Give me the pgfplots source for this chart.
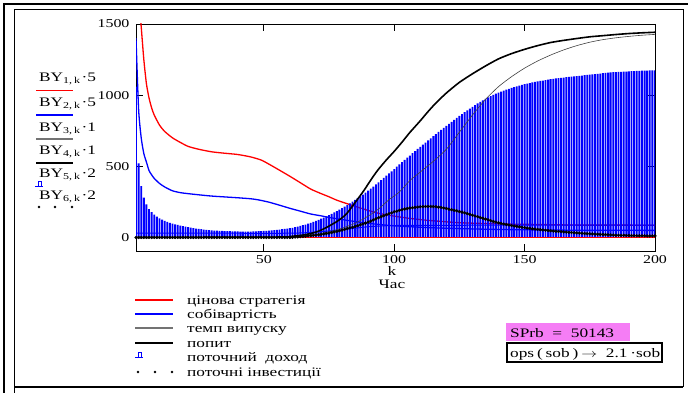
\documentclass[border=0pt]{standalone}
\usepackage{fontspec}
\setmainfont{Liberation Serif}
\usepackage{graphicx}
\usepackage{pgfplots}
\pgfplotsset{compat=1.18}
\definecolor{pinkbox}{RGB}{245,125,245}
\newcommand{\W}[1]{\scalebox{1.33}[1]{#1}}
\newcommand{\BY}[2]{\W{BY\raisebox{-0.35ex}{\small #1,\,k}\hspace{1pt}·#2}}
\begin{document}
\fontsize{13pt}{15pt}\selectfont
\begin{tikzpicture}[x=1pt,y=1pt]
\useasboundingbox (0,0) rectangle (688,392);
% frame
\draw[line width=2.2pt] (4,-5) -- (4,388) -- (700,388);
\draw[line width=0.8pt] (14,-2) -- (14,383) -- (683,383) -- (683,5);
\draw[line width=1.6pt] (14,5) -- (683,5);
\begin{axis}[
  at={(136pt,141pt)}, anchor=south west,
  width=519pt, height=227pt, scale only axis,
  xmin=1, xmax=200, ymin=-95, ymax=1500,
  xtick={50,100,150,200}, ytick={0,500,1000,1500},
  xticklabels={\W{50},\W{100},\W{150},\W{200}},
  yticklabels={\W{0},\W{500},\W{1000},\W{1500}},
  tick align=inside, major tick length=7pt,
  axis line style={line width=0.8pt},
  tick style={line width=0.8pt, black},
  ticklabel style={font=\fontsize{12pt}{14pt}\selectfont},
  yticklabel style={xshift=-2pt},
  clip=true,
]
% red price strategy
\addplot[red, line width=1.3pt, smooth, tension=0.4] coordinates {
(1,2000)(2,1700)(3,1480)(4,1250)(5,1080)(6,980)(7,910)(8,860)(10,790)(12,745)(15,700)(18,668)(21,640)(25,620)(30,602)(35,592)(40,583)(45,566)(49,544)(52,515)(56,473)(60,430)(64,385)(68,340)(72,308)(75,286)(78,262)(82,237)(86,213)(90,190)(94,170)(100,150)(106,134)(112,122)(120,110)(126,103)(135,98)(145,94)(160,90)(170,87)(185,87)(200,86)};
% bars: current income
\addplot[ybar, bar width=0.72, fill=blue, draw=none] coordinates {
(1,1060)(2,520)(3,360)(4,280)(5,232)(6,200)(7,178)(8,160)(9,146)(10,135)
(11,125)(12,117)(13,110)(14,103)(15,97)(16,92)(17,88)(18,84)(19,80)(20,76)
(21,72)(22,69)(23,66)(24,63)(25,60)(26,58)(27,56)(28,54)(29,52)(30,50)
(31,49)(32,48)(33,47)(34,46)(35,45)(36,44)(37,44)(38,43)(39,43)(40,43)
(41,42)(42,42)(43,42)(44,42)(45,42)(46,43)(47,43)(48,44)(49,45)(50,46)
(51,47)(52,48)(53,50)(54,52)(55,54)(56,56)(57,58)(58,60)(59,62)(60,65)
(61,68)(62,72)(63,76)(64,81)(65,86)(66,91)(67,97)(68,103)(69,110)(70,117)
(71,124)(72,132)(73,140)(74,148)(75,157)(76,166)(77,176)(78,186)(79,196)(80,206)
(81,217)(82,228)(83,240)(84,252)(85,264)(86,276)(87,289)(88,302)(89,315)(90,329)
(91,343)(92,358)(93,373)(94,388)(95,403)(96,418)(97,434)(98,450)(99,465)(100,481)
(101,497)(102,513)(103,529)(104,545)(105,561)(106,576)(107,592)(108,607)(109,622)(110,637)
(111,652)(112,667)(113,682)(114,697)(115,712)(116,727)(117,742)(118,756)(119,770)(120,784)
(121,798)(122,812)(123,826)(124,840)(125,854)(126,867)(127,880)(128,893)(129,906)(130,918)
(131,930)(132,942)(133,953)(134,964)(135,974)(136,984)(137,993)(138,1002)(139,1010)(140,1018)
(141,1025)(142,1032)(143,1039)(144,1045)(145,1051)(146,1057)(147,1062)(148,1067)(149,1072)(150,1077)
(151,1081)(152,1085)(153,1089)(154,1093)(155,1097)(156,1100)(157,1103)(158,1106)(159,1109)(160,1112)
(161,1115)(162,1118)(163,1120)(164,1122)(165,1124)(166,1126)(167,1128)(168,1130)(169,1132)(170,1134)
(171,1136)(172,1138)(173,1140)(174,1142)(175,1144)(176,1146)(177,1148)(178,1150)(179,1152)(180,1154)
(181,1156)(182,1158)(183,1160)(184,1161)(185,1162)(186,1163)(187,1164)(188,1165)(189,1166)(190,1167)
(191,1168)(192,1169)(193,1170)(194,1171)(195,1172)(196,1173)(197,1173)(198,1174)(199,1174)(200,1175)};
% red zero line
\addplot[red, line width=1pt] coordinates {(63,0)(200,0)};
% blue cost
\addplot[blue, line width=1.3pt, smooth, tension=0.4] coordinates {
(1,1400)(2,900)(3,700)(4,590)(5,530)(6,470)(7,440)(8,415)(10,380)(12,355)(15,328)(18,315)(21,308)(25,300)(30,291)(35,285)(40,279)(45,272)(48,264)(52,248)(56,227)(60,205)(64,185)(68,165)(72,152)(75,141)(80,126)(85,112)(90,100)(95,90)(100,82)(110,72)(120,65)(135,58)(150,54)(170,51)(200,50)};
% second blue line
\addplot[blue, line width=1pt, smooth, tension=0.4] coordinates {
(1,30)(30,30)(60,30)(70,38)(80,55)(90,75)(100,84)(130,86)(200,86)};
% output rate (thin)
\addplot[black!75, line width=0.6pt, smooth, tension=0.4] coordinates {
(1,0)(50,1)(60,4)(65,10)(70,22)(75,40)(80,65)(85,100)(90,150)(94,200)(98,265)(102,320)(106,400)(110,460)(115,535)(120,620)(125,740)(130,860)(135,970)(140,1060)(145,1130)(150,1190)(155,1240)(160,1282)(165,1318)(170,1348)(175,1372)(180,1390)(185,1403)(190,1413)(195,1421)(200,1427)};
% demand (thick)
\addplot[black, line width=1.6pt, smooth, tension=0.4] coordinates {
(1,0)(55,3)(60,7)(65,17)(68,28)(70,38)(72,52)(75,80)(78,112)(80,138)(82,172)(85,245)(88,320)(90,375)(92,430)(94,480)(97,545)(100,605)(103,670)(106,738)(110,820)(113,885)(116,945)(120,1015)(125,1090)(130,1150)(135,1205)(140,1255)(145,1292)(150,1322)(155,1348)(160,1370)(165,1385)(170,1398)(175,1410)(180,1418)(185,1426)(190,1433)(195,1438)(200,1442)};
% investments (dots)
\addplot[only marks, mark=*, mark size=1.4pt, black] coordinates {
(1,0)(2,0)(3,0)(4,0)(5,0)(6,0)(7,0)(8,0)(9,0)(10,0)
(11,0)(12,0)(13,0)(14,0)(15,0)(16,0)(17,0)(18,0)(19,0)(20,0)
(21,0)(22,0)(23,0)(24,0)(25,0)(26,0)(27,0)(28,0)(29,0)(30,0)
(31,0)(32,0)(33,0)(34,0)(35,0)(36,0)(37,0)(38,0)(39,0)(40,0)
(41,0)(42,0)(43,0)(44,0)(45,0)(46,0)(47,0)(48,0)(49,0)(50,0)
(51,0)(52,0)(53,0)(54,0)(55,0)(56,0)(57,0)(58,0)(59,0)(60,0)
(61,1)(62,3)(63,4)(64,6)(65,7)(66,9)(67,11)(68,13)(69,15)(70,17)
(71,19)(72,22)(73,25)(74,28)(75,31)(76,35)(77,39)(78,43)(79,47)(80,52)
(81,57)(82,62)(83,67)(84,72)(85,77)(86,83)(87,89)(88,95)(89,101)(90,108)
(91,115)(92,123)(93,131)(94,139)(95,146)(96,153)(97,160)(98,167)(99,173)(100,180)
(101,185)(102,191)(103,195)(104,200)(105,203)(106,207)(107,209)(108,212)(109,214)(110,216)
(111,217)(112,218)(113,218)(114,218)(115,217)(116,216)(117,213)(118,211)(119,207)(120,204)
(121,199)(122,195)(123,191)(124,187)(125,182)(126,178)(127,173)(128,168)(129,162)(130,157)
(131,151)(132,146)(133,140)(134,135)(135,129)(136,124)(137,118)(138,113)(139,108)(140,103)
(141,99)(142,95)(143,91)(144,88)(145,84)(146,81)(147,78)(148,75)(149,72)(150,69)
(151,66)(152,64)(153,61)(154,59)(155,57)(156,55)(157,53)(158,51)(159,49)(160,47)
(161,45)(162,44)(163,42)(164,41)(165,39)(166,38)(167,36)(168,35)(169,33)(170,32)
(171,31)(172,30)(173,28)(174,27)(175,26)(176,25)(177,24)(178,23)(179,22)(180,21)
(181,20)(182,19)(183,18)(184,17)(185,16)(186,16)(187,15)(188,15)(189,14)(190,14)
(191,13)(192,13)(193,12)(194,12)(195,12)(196,12)(197,11)(198,11)(199,11)(200,11)};
\end{axis}
% x axis label
\node[anchor=base] at (392,117) {\W{k}};
\node[anchor=base] at (392,104) {\W{Час}};
% left trace legend
\node[anchor=base west, inner sep=0] at (39,311) {\BY{1}{5}};
\draw[red, line width=1.2pt] (36,301.3) -- (73,301.3);
\node[anchor=base west, inner sep=0] at (39,286) {\BY{2}{5}};
\draw[blue, line width=1.2pt] (36,277) -- (73,277);
\node[anchor=base west, inner sep=0] at (39,261) {\BY{3}{1}};
\draw[black!55, line width=1.2pt] (36,253) -- (73,253);
\node[anchor=base west, inner sep=0] at (39,238) {\BY{4}{1}};
\draw[black, line width=1.2pt] (36,229) -- (73,229);
\node[anchor=base west, inner sep=0] at (39,215) {\BY{5}{2}};
\draw[blue, line width=0.7pt] (35,206) -- (43,206);
\draw[blue, line width=0.7pt] (38,206) rectangle (41,211);
\node[anchor=base west, inner sep=0] at (39,193) {\BY{6}{2}};
\foreach \xx in {39,55,72} \fill (\xx,185) circle (1.3);
% bottom legend
\draw[red, line width=1.2pt] (135,92) -- (173,92);
\node[anchor=base west, inner sep=0] at (187,88) {\W{цінова стратегія}};
\draw[blue, line width=1.2pt] (135,78) -- (173,78);
\node[anchor=base west, inner sep=0] at (187,74) {\W{собівартість}};
\draw[black!55, line width=1.2pt] (135,64) -- (173,64);
\node[anchor=base west, inner sep=0] at (187,60) {\W{темп випуску}};
\draw[black, line width=1.2pt] (135,49) -- (173,49);
\node[anchor=base west, inner sep=0] at (187,45) {\W{попит}};
\draw[blue, line width=0.7pt] (135,35) -- (143,35);
\draw[blue, line width=0.7pt] (138,35) rectangle (141,40);
\node[anchor=base west, inner sep=0] at (187,31) {\W{поточний\ \ доход}};
\foreach \xx in {138,155,172} \fill (\xx,20) circle (1.3);
\node[anchor=base west, inner sep=0] at (187,16) {\W{поточні інвестиції}};
% boxes
\fill[pinkbox] (506,51) rectangle (630,69);
\node[anchor=base west, inner sep=0] at (510,55) {\W{SPrb\ \ =\ \ 50143}};
\draw[line width=1.3pt] (507,30) rectangle (662,49);
\node[anchor=base west, inner sep=0] at (510,35) {\W{ops\,(\,sob\,)\,$\rightarrow$\ \ 2.1\,·sob}};
\end{tikzpicture}
\end{document}
